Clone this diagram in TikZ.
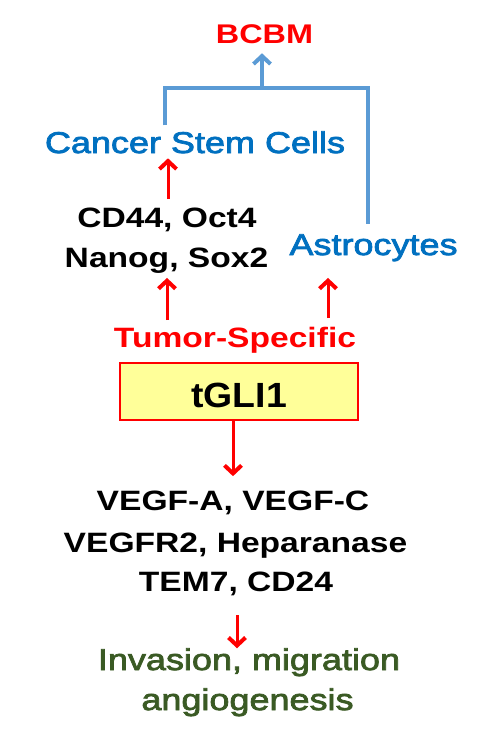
\documentclass[tikz,border=0pt]{standalone}
\usepackage{fontspec}
\setmainfont{Liberation Sans}
\newfontfamily\wide{Liberation Sans}[FakeStretch=1.2]
\newfontfamily\widemed{Liberation Sans}[FakeStretch=1.2,FakeBold=2.5]
\newfontfamily\boxfont{Liberation Sans}[FakeStretch=1.07]
\usetikzlibrary{arrows.meta}
\definecolor{myred}{RGB}{255,0,0}
\definecolor{mytblue}{RGB}{0,112,192}
\definecolor{mylblue}{RGB}{91,155,213}
\definecolor{mygreen}{RGB}{58,90,36}
\definecolor{myyellow}{RGB}{255,255,153}
\tikzset{
  lbl/.style={anchor=base, inner sep=0pt, outer sep=0pt, font=\wide\bfseries\fontsize{28}{30}\selectfont},
  blk/.style={lbl, text=black},
  redt/.style={lbl, text=myred},
  bluet/.style={anchor=base, inner sep=0pt, outer sep=0pt, text=mytblue, font=\widemed\fontsize{30}{32}\selectfont},
  greent/.style={anchor=base, inner sep=0pt, outer sep=0pt, text=mygreen, font=\widemed\fontsize{30}{32}\selectfont},
  genebox/.style={draw=myred, line width=2.5pt, fill=myyellow, minimum width=238pt, minimum height=57pt,
    inner sep=0pt, outer sep=0pt, text height=31pt, text depth=0pt, font=\boxfont\bfseries\fontsize{35}{37}\selectfont},
  redarr/.style={draw=myred, line width=3pt, -{Straight Barb[length=8pt,width=17pt,line width=4pt]}},
  blueline/.style={draw=mylblue, line width=3.5pt},
  bluearr/.style={blueline, -{Straight Barb[length=8pt,width=17pt,line width=4pt]}}
}
\begin{document}
\begin{tikzpicture}[x=1pt,y=-1pt]
\useasboundingbox[fill=white] (0,0) rectangle (498,740);
% texts
\node[redt, font=\wide\bfseries\fontsize{27}{29}\selectfont] (bcbm) at (264.5,43) {BCBM};
\node[bluet] (csc) at (195,153) {Cancer Stem Cells};
\node[blk] (cd) at (167,227) {CD44, Oct4};
\node[blk] (nanog) at (166.5,267) {Nanog, Sox2};
\node[bluet] (astro) at (373.5,255) {Astrocytes};
\node[redt] (ts) at (235,347) {Tumor-Specific};
\node[genebox] (tgli) at (239,391.5) {tGLI1};
\node[blk] (vegfa) at (233,510) {VEGF-A, VEGF-C};
\node[blk] (vegfr) at (235.5,552) {VEGFR2, Heparanase};
\node[blk] (tem) at (236,591) {TEM7, CD24};
\node[greent] (inv) at (249,670) {Invasion, migration};
\node[greent] (ang) at (247.5,710) {angiogenesis};
% coordinates
\coordinate (jl) at (165,88);
\coordinate (jr) at (368,88);
\coordinate (jm) at (262,88);
\coordinate (x1) at (168,0);
\coordinate (x2) at (167,0);
\coordinate (x3) at (328,0);
\coordinate (x4) at (233,0);
\coordinate (x5) at (237,0);
% blue connectors
\draw[blueline, shorten <=6pt, shorten >=10.5pt] (csc.north -| jl) -- (jl) -- (jr) -- (astro.north -| jr);
\draw[bluearr, shorten >=10pt] (jm) -- (bcbm.south -| jm);
% red arrows
\draw[redarr, shorten <=8.3pt, shorten >=5pt] (cd.north -| x1) -- (csc.south -| x1);
\draw[redarr, shorten <=6.6pt, shorten >=5pt] (ts.north -| x2) -- (nanog.south -| x2);
\draw[redarr, shorten <=8.6pt, shorten >=16.7pt] (ts.north -| x3) -- (astro.south -| x3);
\draw[redarr, shorten >=14.3pt] (tgli.south -| x4) -- (vegfa.north -| x4);
\draw[redarr, shorten <=20pt] (tem.south -| x5) -- (inv.north -| x5);
\end{tikzpicture}
\end{document}
